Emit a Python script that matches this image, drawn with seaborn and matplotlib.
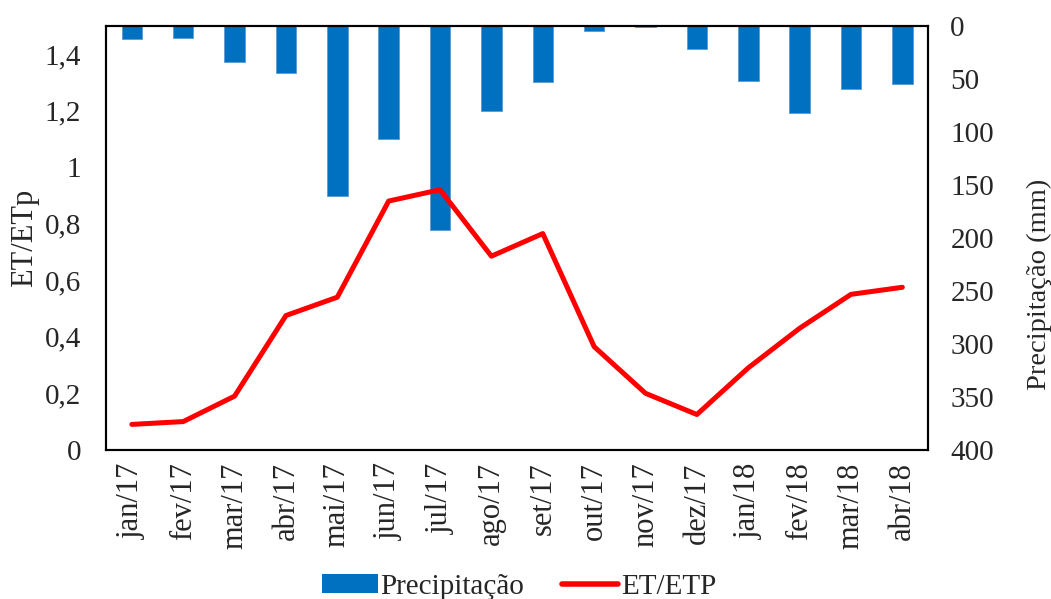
import numpy as np
import pandas as pd
import matplotlib
matplotlib.use("Agg")
import matplotlib.pyplot as plt
import seaborn as sns
from matplotlib.patches import Patch
from matplotlib.lines import Line2D
from matplotlib.ticker import FixedLocator, FuncFormatter

months = ["jan/17", "fev/17", "mar/17", "abr/17", "mai/17", "jun/17", "jul/17", "ago/17",
          "set/17", "out/17", "nov/17", "dez/17", "jan/18", "fev/18", "mar/18", "abr/18"]
precipitacao = [12.5, 12, 34, 45, 161, 107, 193, 80, 53, 4.5, 1, 21.5, 52.5, 82, 59.5, 55]
et_etp = [0.09, 0.10, 0.19, 0.475, 0.54, 0.88, 0.92, 0.685, 0.765, 0.365, 0.20, 0.125, 0.29, 0.43, 0.55, 0.575]

df = pd.DataFrame({"mes": months, "prec": precipitacao, "et": et_etp})

sns.set_style("white")
plt.rcParams["font.family"] = ["Liberation Serif", "DejaVu Serif"]
FS = 21

fig = plt.figure(figsize=(10.51, 5.99), dpi=100)
ax = fig.add_axes([0.101, 0.249, 0.782, 0.708])
ax2 = ax.twinx()

# Precipitation bars hanging from the top on the inverted right axis
sns.barplot(data=df, x="mes", y="prec", ax=ax2, color="#0070C0", saturation=1,
            width=0.4, edgecolor="#5B9BD5", linewidth=0.6)
ax2.set_ylim(400, 0)
ax2.yaxis.set_major_locator(FixedLocator(np.arange(0, 401, 50)))
ax2.set_ylabel("Precipitação (mm)", fontsize=20.5)
ax2.yaxis.set_label_coords(1.12, 0.39)
ax2.set_xlabel("")

# ET/ETP ratio line on the left axis, drawn above the bars
sns.lineplot(data=df, x="mes", y="et", ax=ax, color="#FF0000", linewidth=3.6,
             sort=False, solid_capstyle="round", solid_joinstyle="round")
ax.set_zorder(ax2.get_zorder() + 1)
ax.patch.set_visible(False)
ax.set_ylim(0, 1.5)
ax.yaxis.set_major_locator(FixedLocator(np.arange(0, 1.41, 0.2)))
ax.yaxis.set_major_formatter(FuncFormatter(lambda v, p: f"{v:g}".replace(".", ",")))
ax.set_ylabel("ET/ETp", fontsize=22, labelpad=4)
ax.set_xlabel("")
ax.set_xlim(-0.5, len(months) - 0.5)
ax.set_xticks(range(len(months)))
ax.set_xticklabels(months, rotation=90)

ax.tick_params(axis="y", labelsize=FS, length=0, pad=18)
ax2.tick_params(axis="y", labelsize=FS, length=0, pad=16)
for a in (ax, ax2):
    for s in a.spines.values():
        s.set_visible(True)
        s.set_color("black")
        s.set_linewidth(1.5)
ax.tick_params(axis="x", labelsize=22, length=0, pad=9)
ax2.tick_params(axis="x", labelbottom=False, length=0)

handles = [Patch(facecolor="#0070C0", edgecolor="none"),
           Line2D([0], [0], color="#FF0000", linewidth=4)]
fig.legend(handles, ["Precipitação", "ET/ETP"], loc="lower center",
           bbox_to_anchor=(0.494, -0.045), ncol=2, frameon=False, fontsize=FS,
           handlelength=1.9, handleheight=0.6, handletextpad=0.1, columnspacing=1.3)

fig.savefig("out.png", dpi=100)
